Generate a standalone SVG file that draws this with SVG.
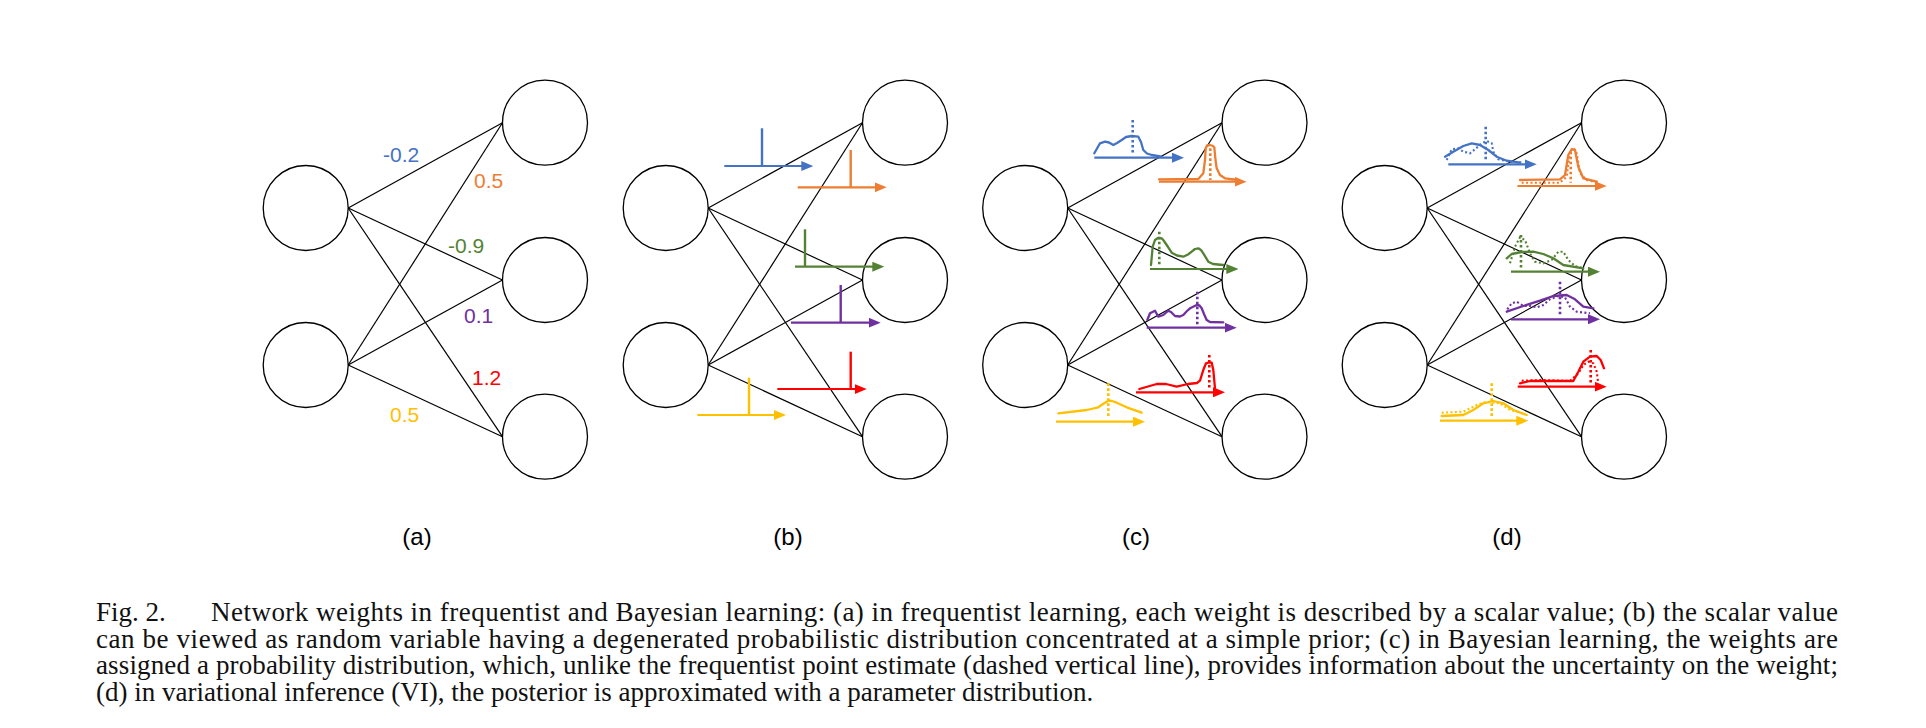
<svg xmlns="http://www.w3.org/2000/svg" width="1926" height="728" viewBox="0 0 1926 728">
<style>
.node{fill:none;stroke:#000;stroke-width:1.3}
.conn line{stroke:#000;stroke-width:1.2}
.w{font-family:"Liberation Sans",Arial,sans-serif;font-size:21px}
.lbl{font-family:"Liberation Sans",Arial,sans-serif;font-size:24px;text-anchor:middle;fill:#000}
.cap{font-family:"Liberation Serif","Times New Roman",serif;font-size:27px;fill:#111}
.ax{fill:none;stroke-width:2.2}
.sp{fill:none;stroke-width:2.4}
.pdf{fill:none;stroke-width:2.3;stroke-linejoin:round;stroke-linecap:round}
.dpdf{fill:none;stroke-width:2.1;stroke-dasharray:2 2.4}
.dv{fill:none;stroke-width:2.6;stroke-dasharray:2.6 2.4}
.b{stroke:#4472C4}.o{stroke:#ED7D31}.g{stroke:#548235}.p{stroke:#7030A0}.r{stroke:#FF0000}.y{stroke:#FFC000}
</style>
<defs>
<marker id="mb" viewBox="0 0 12 10" refX="6" refY="5" markerWidth="12" markerHeight="10" markerUnits="userSpaceOnUse" orient="auto"><path d="M0,0L12,5L0,10z" fill="#4472C4"/></marker>
<marker id="mo" viewBox="0 0 12 10" refX="6" refY="5" markerWidth="12" markerHeight="10" markerUnits="userSpaceOnUse" orient="auto"><path d="M0,0L12,5L0,10z" fill="#ED7D31"/></marker>
<marker id="mg" viewBox="0 0 12 10" refX="6" refY="5" markerWidth="12" markerHeight="10" markerUnits="userSpaceOnUse" orient="auto"><path d="M0,0L12,5L0,10z" fill="#548235"/></marker>
<marker id="mp" viewBox="0 0 12 10" refX="6" refY="5" markerWidth="12" markerHeight="10" markerUnits="userSpaceOnUse" orient="auto"><path d="M0,0L12,5L0,10z" fill="#7030A0"/></marker>
<marker id="mr" viewBox="0 0 12 10" refX="6" refY="5" markerWidth="12" markerHeight="10" markerUnits="userSpaceOnUse" orient="auto"><path d="M0,0L12,5L0,10z" fill="#FF0000"/></marker>
<marker id="my" viewBox="0 0 12 10" refX="6" refY="5" markerWidth="12" markerHeight="10" markerUnits="userSpaceOnUse" orient="auto"><path d="M0,0L12,5L0,10z" fill="#FFC000"/></marker>
</defs>

<!-- Panel (a) -->
<g id="panel-a">
<g id="connectors-a" class="conn">
<line x1="348.2" y1="208" x2="502.5" y2="122.7"/>
<line x1="348.2" y1="208" x2="502.5" y2="280"/>
<line x1="348.2" y1="208" x2="502.5" y2="436.7"/>
<line x1="348.2" y1="365" x2="502.5" y2="122.7"/>
<line x1="348.2" y1="365" x2="502.5" y2="280"/>
<line x1="348.2" y1="365" x2="502.5" y2="436.7"/>
</g>
<g id="a-in1"><circle class="node" cx="305.7" cy="208" r="42.5"/></g>
<g id="a-in2"><circle class="node" cx="305.7" cy="365" r="42.5"/></g>
<g id="a-out1"><circle class="node" cx="545" cy="122.7" r="42.5"/></g>
<g id="a-out2"><circle class="node" cx="545" cy="280" r="42.5"/></g>
<g id="a-out3"><circle class="node" cx="545" cy="436.7" r="42.5"/></g>
<g id="a-weights" class="w">
<text x="383" y="162" fill="#4472C4">-0.2</text>
<text x="474" y="188" fill="#ED7D31">0.5</text>
<text x="448" y="253" fill="#548235">-0.9</text>
<text x="464" y="323" fill="#7030A0">0.1</text>
<text x="472" y="385" fill="#FF0000">1.2</text>
<text x="390" y="422" fill="#FFC000">0.5</text>
</g>
<text class="lbl" x="417" y="545">(a)</text>
</g>

<!-- Panel (b) -->
<g id="panel-b">
<g id="connectors-b" class="conn" transform="translate(360,0)">
<line x1="348.2" y1="208" x2="502.5" y2="122.7"/>
<line x1="348.2" y1="208" x2="502.5" y2="280"/>
<line x1="348.2" y1="208" x2="502.5" y2="436.7"/>
<line x1="348.2" y1="365" x2="502.5" y2="122.7"/>
<line x1="348.2" y1="365" x2="502.5" y2="280"/>
<line x1="348.2" y1="365" x2="502.5" y2="436.7"/>
</g>
<g transform="translate(360,0)">
<g id="b-in1"><circle class="node" cx="305.7" cy="208" r="42.5"/></g>
<g id="b-in2"><circle class="node" cx="305.7" cy="365" r="42.5"/></g>
<g id="b-out1"><circle class="node" cx="545" cy="122.7" r="42.5"/></g>
<g id="b-out2"><circle class="node" cx="545" cy="280" r="42.5"/></g>
<g id="b-out3"><circle class="node" cx="545" cy="436.7" r="42.5"/></g>
</g>
<g id="b-weights">
<line class="ax b" x1="724.3" y1="166" x2="807.3" y2="166" marker-end="url(#mb)"/>
<line class="sp b" x1="762" y1="128.3" x2="762" y2="166"/>
<line class="ax o" x1="797.7" y1="187.3" x2="880.7" y2="187.3" marker-end="url(#mo)"/>
<line class="sp o" x1="850.7" y1="150" x2="850.7" y2="187.3"/>
<line class="ax g" x1="795" y1="266.7" x2="878.3" y2="266.7" marker-end="url(#mg)"/>
<line class="sp g" x1="805" y1="229.3" x2="805" y2="266.7"/>
<line class="ax p" x1="791" y1="322.7" x2="874.7" y2="322.7" marker-end="url(#mp)"/>
<line class="sp p" x1="840.7" y1="285" x2="840.7" y2="322.7"/>
<line class="ax r" x1="777.3" y1="389" x2="860.7" y2="389" marker-end="url(#mr)"/>
<line class="sp r" x1="850.7" y1="351.7" x2="850.7" y2="389"/>
<line class="ax y" x1="697.3" y1="415" x2="780" y2="415" marker-end="url(#my)"/>
<line class="sp y" x1="749" y1="377.7" x2="749" y2="415"/>
</g>
<text class="lbl" x="788" y="545">(b)</text>
</g>

<!-- Panel (c) -->
<g id="panel-c">
<g id="connectors-c" class="conn" transform="translate(719.5,0)">
<line x1="348.2" y1="208" x2="502.5" y2="122.7"/>
<line x1="348.2" y1="208" x2="502.5" y2="280"/>
<line x1="348.2" y1="208" x2="502.5" y2="436.7"/>
<line x1="348.2" y1="365" x2="502.5" y2="122.7"/>
<line x1="348.2" y1="365" x2="502.5" y2="280"/>
<line x1="348.2" y1="365" x2="502.5" y2="436.7"/>
</g>
<g transform="translate(719.5,0)">
<g id="c-in1"><circle class="node" cx="305.7" cy="208" r="42.5"/></g>
<g id="c-in2"><circle class="node" cx="305.7" cy="365" r="42.5"/></g>
<g id="c-out1"><circle class="node" cx="545" cy="122.7" r="42.5"/></g>
<g id="c-out2"><circle class="node" cx="545" cy="280" r="42.5"/></g>
<g id="c-out3"><circle class="node" cx="545" cy="436.7" r="42.5"/></g>
</g>
<g id="c-weights">
<line class="ax b" x1="1094.3" y1="157.7" x2="1178" y2="157.7" marker-end="url(#mb)"/>
<polyline class="pdf b" points="1094.3,153.3 1100,143.3 1105,141.7 1109,142.5 1113.3,145 1117,143 1121.7,140 1126,137 1131.7,136 1138.3,136.7 1141,142 1143.3,150 1147,153.5 1151.7,155 1161.7,156.7"/>
<line class="dv b" x1="1132.7" y1="120" x2="1132.7" y2="154"/>

<line class="ax o" x1="1159" y1="181.7" x2="1240.5" y2="181.7" marker-end="url(#mo)"/>
<polyline class="pdf o" points="1159,179.3 1198.3,179 1203.3,173.3 1205,160 1205.7,148.3 1207,145.5 1210,145 1213,146 1214.3,147.3 1215.5,160 1216.7,168.3 1220,175 1225,178.3 1238.3,180"/>
<line class="dv o" x1="1210.3" y1="148.3" x2="1210.3" y2="180"/>

<line class="ax g" x1="1150" y1="269" x2="1232.3" y2="269" marker-end="url(#mg)"/>
<polyline class="pdf g" points="1151,265 1152.7,246.7 1155,240 1158,238 1161.7,238.3 1164,241 1166.7,245 1171.7,252.7 1177,255.5 1183.3,256.7 1188,254.5 1191.7,251.7 1195,249 1198.3,248.3 1201,250 1203.3,253.3 1208.3,261.7 1213,264 1223.3,265"/>
<line class="dv g" x1="1159.3" y1="231.7" x2="1159.3" y2="265"/>

<line class="ax p" x1="1146.7" y1="327.7" x2="1230.7" y2="327.7" marker-end="url(#mp)"/>
<polyline class="pdf p" points="1147.3,320 1150,313.3 1155,310.7 1158.3,316.7 1163.3,315 1168.3,310.7 1171,312 1175,316 1180,316.5 1183.3,315 1187,311 1190,308.3 1196.7,305 1199.5,305.5 1201.7,308.3 1204,314 1206.7,320 1210,322 1223.3,322.3"/>
<line class="dv p" x1="1197.3" y1="291.7" x2="1197.3" y2="325"/>

<line class="ax r" x1="1136" y1="392.3" x2="1219" y2="392.3" marker-end="url(#mr)"/>
<polyline class="pdf r" points="1139.3,389 1156.7,384 1166,384 1176.7,386.7 1188,384 1197,383 1200,380.7 1203.3,370 1206,363.3 1209,362.3 1211.7,362.7 1213.3,370 1215,388.3"/>
<line class="dv r" x1="1209.3" y1="355" x2="1209.3" y2="388.3"/>

<line class="ax y" x1="1056" y1="421.7" x2="1139" y2="421.7" marker-end="url(#my)"/>
<polyline class="pdf y" points="1058.3,413.3 1086.7,410 1098.3,407.3 1103,404 1108.3,400.7 1112,401 1116.7,402.7 1126.7,407.3 1141.7,412.7"/>
<line class="dv y" x1="1108.3" y1="383.3" x2="1108.3" y2="418.3"/>
</g>
<text class="lbl" x="1136" y="545">(c)</text>
</g>

<!-- Panel (d) -->
<g id="panel-d">
<g id="connectors-d" class="conn" transform="translate(1079,0)">
<line x1="348.2" y1="208" x2="502.5" y2="122.7"/>
<line x1="348.2" y1="208" x2="502.5" y2="280"/>
<line x1="348.2" y1="208" x2="502.5" y2="436.7"/>
<line x1="348.2" y1="365" x2="502.5" y2="122.7"/>
<line x1="348.2" y1="365" x2="502.5" y2="280"/>
<line x1="348.2" y1="365" x2="502.5" y2="436.7"/>
</g>
<g transform="translate(1079,0)">
<g id="d-in1"><circle class="node" cx="305.7" cy="208" r="42.5"/></g>
<g id="d-in2"><circle class="node" cx="305.7" cy="365" r="42.5"/></g>
<g id="d-out1"><circle class="node" cx="545" cy="122.7" r="42.5"/></g>
<g id="d-out2"><circle class="node" cx="545" cy="280" r="42.5"/></g>
<g id="d-out3"><circle class="node" cx="545" cy="436.7" r="42.5"/></g>
</g>
<g id="d-weights">
<line class="ax b" x1="1448.3" y1="164.3" x2="1530.7" y2="164.3" marker-end="url(#mb)"/>
<polyline class="pdf b" points="1445,156.7 1453.3,151.7 1463.3,146 1471.7,143.3 1480,145 1488.3,150 1496.7,156.7 1506.7,160.7 1520,162.7"/>
<polyline class="dpdf b" points="1446.7,160 1451.7,149.3 1458.3,148.3 1463.3,151.7 1470,153.3 1475,149.3 1481.7,143.3 1486.7,141 1491.7,143.3 1493.3,151.7 1498.3,159.3 1510,161.7 1523.3,162.7"/>
<line class="dv b" x1="1485.7" y1="126.7" x2="1485.7" y2="161.7"/>

<line class="ax o" x1="1517.5" y1="186" x2="1600.7" y2="186" marker-end="url(#mo)"/>
<polyline class="pdf o" points="1520,180 1560,179.3 1565,175 1568.3,155 1571.7,149.3 1575,150 1578.3,166.7 1583.3,178.3 1596.7,181.7"/>
<polyline class="dpdf o" points="1521.7,182.7 1560,182.7 1566.7,176.7 1570,151.7 1573.3,147.3 1576.7,153.3 1580,173.3 1586.7,180 1596.7,182.7"/>
<line class="dv o" x1="1570.7" y1="151.7" x2="1570.7" y2="182.7"/>

<line class="ax g" x1="1511" y1="271.7" x2="1594" y2="271.7" marker-end="url(#mg)"/>
<polyline class="pdf g" points="1506.7,258.3 1511.7,254 1521.7,252 1533.3,251.7 1543.3,254 1553.3,258.3 1563.3,265 1583.3,268.3"/>
<polyline class="dpdf g" points="1510,263.3 1515,246.7 1520,237.3 1525,240 1530,253.3 1535,261.7 1543.3,263.3 1551.7,260 1558.3,251.7 1563.3,251.7 1568.3,260 1575,266 1583.3,268.3"/>
<line class="dv g" x1="1521" y1="235" x2="1521" y2="268.3"/>

<line class="ax p" x1="1511" y1="319.3" x2="1594" y2="319.3" marker-end="url(#mp)"/>
<polyline class="pdf p" points="1506.7,311.7 1523.3,306 1540,300.7 1553.3,296 1566.7,295 1575,299.3 1583.3,306.7 1593.3,308.3"/>
<polyline class="dpdf p" points="1507.3,309.3 1511.7,303.3 1516.7,301.7 1523.3,306 1530,306 1536.7,307.3 1543.3,305 1550,299.3 1558.3,296 1565,297.3 1570,306.7 1576.7,311.7 1590,313.3"/>
<line class="dv p" x1="1560" y1="281.7" x2="1560" y2="315"/>

<line class="ax r" x1="1517.7" y1="386.7" x2="1600.7" y2="386.7" marker-end="url(#mr)"/>
<polyline class="pdf r" points="1520,383.3 1530,381 1573.3,381 1578.3,371.7 1583.3,361.7 1590,356.7 1596.7,356 1600.7,360 1604,368.3"/>
<polyline class="dpdf r" points="1521.7,380.7 1543.3,380 1570,381 1578.3,373.3 1583.3,365 1588.3,361.7 1593.3,363.3 1596.7,371.7 1598.3,383.3"/>
<line class="dv r" x1="1590.7" y1="350" x2="1590.7" y2="383.3"/>

<line class="ax y" x1="1440" y1="420.7" x2="1522.3" y2="420.7" marker-end="url(#my)"/>
<polyline class="pdf y" points="1441.7,416 1463.3,415 1473.3,410 1483.3,403.3 1493.3,401 1503.3,403.3 1513.3,410 1526.7,415"/>
<polyline class="dpdf y" points="1441.7,412.7 1463.3,411.7 1476.7,405 1486.7,401.7 1500,403.3 1510,410 1523.3,413.3"/>
<line class="dv y" x1="1491.7" y1="383.3" x2="1491.7" y2="418.3"/>
</g>
<text class="lbl" x="1507" y="545">(d)</text>
</g>

<g id="caption" class="cap">
<text x="96" y="621">Fig. 2.</text>
<text x="211" y="621" textLength="1627" lengthAdjust="spacing">Network weights in frequentist and Bayesian learning: (a) in frequentist learning, each weight is described by a scalar value; (b) the scalar value</text>
<text x="96" y="647.5" textLength="1742" lengthAdjust="spacing">can be viewed as random variable having a degenerated probabilistic distribution concentrated at a simple prior; (c) in Bayesian learning, the weights are</text>
<text x="96" y="674" textLength="1742" lengthAdjust="spacing">assigned a probability distribution, which, unlike the frequentist point estimate (dashed vertical line), provides information about the uncertainty on the weight;</text>
<text x="96" y="700.5">(d) in variational inference (VI), the posterior is approximated with a parameter distribution.</text>
</g>
</svg>
